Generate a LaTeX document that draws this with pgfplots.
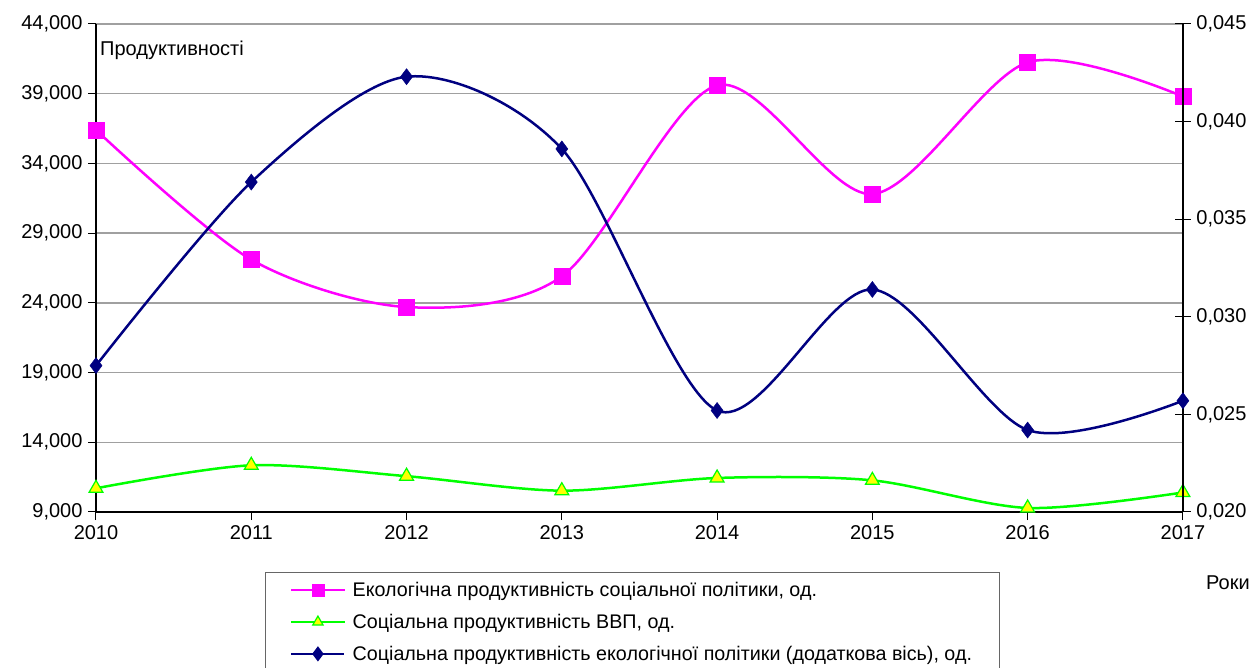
\documentclass[border=0pt]{standalone}
\usepackage{fontspec}
\setmainfont{Liberation Sans}
\usepackage{pgfplots}
\pgfplotsset{compat=1.18}
\definecolor{pinkc}{HTML}{FF00FF}
\definecolor{greenc}{HTML}{00FF00}
\definecolor{yellowc}{HTML}{FFFF00}
\definecolor{navyc}{HTML}{000080}
\definecolor{gridc}{HTML}{A0A0A0}
\begin{document}
\begin{tikzpicture}
\pgfplotsset{
  every axis/.append style={
    scale only axis, width=1087pt, height=488pt,
    xmin=2010, xmax=2017,
    scaled ticks=false,
    tick label style={font=\fontsize{20}{24}\selectfont},
    clip=false,
  },
}
\begin{axis}[
  ymin=9000, ymax=44000,
  ytick={9000,14000,19000,24000,29000,34000,39000,44000},
  yticklabels={{9,000},{14,000},{19,000},{24,000},{29,000},{34,000},{39,000},{44,000}},
  xtick={2010,2011,2012,2013,2014,2015,2016,2017},
  xticklabels={2010,2011,2012,2013,2014,2015,2016,2017},
  axis x line*=bottom, axis y line*=left,
  axis line style={-, black, line width=1.5pt},
  tick align=outside, major tick length=8pt,
  tick style={black, line width=1pt},
  ymajorgrids, major grid style={gridc, line width=1.3pt},
  xticklabel style={yshift=-2pt},
  yticklabel style={xshift=-2pt},
  legend style={at={(0.1555,-0.123)}, anchor=north west, draw=black!60, line width=0.8pt,
    font=\fontsize{19.7}{23}\selectfont, row sep=12pt, inner xsep=25pt, inner ysep=8pt},
  legend cell align=left,
  legend image code/.code={\draw[mark repeat=2,mark phase=2,#1,mark size=6pt,line width=2pt] plot coordinates {(0pt,0pt) (26.5pt,0pt) (53pt,0pt)}; \path (58pt,0pt);},
]
\addplot[pinkc, line width=2.5pt, smooth, mark=square*, mark size=8pt, mark options={fill=pinkc, draw=pinkc, line width=0.5pt}]
 coordinates {(2010,36400) (2011,27100) (2012,23700) (2013,25900) (2014,39600) (2015,31800) (2016,41250) (2017,38800)};
\addlegendentry{\makebox[619pt][l]{Екологічна продуктивність соціальної політики, од.}}
\addplot[greenc, line width=2.5pt, smooth, mark=triangle*, mark size=8pt, mark options={fill=yellowc, draw=greenc, line width=1.2pt}]
 coordinates {(2010,10700) (2011,12350) (2012,11570) (2013,10530) (2014,11440) (2015,11270) (2016,9290) (2017,10400)};
\addlegendentry{Соціальна продуктивність ВВП, од.}
\addlegendimage{navyc, line width=2pt, mark=diamond*, mark size=7pt, mark options={fill=navyc, draw=navyc}}
\addlegendentry{Соціальна продуктивність екологічної політики (додаткова вісь), од.}
\node[anchor=west, font=\fontsize{20}{24}\selectfont, inner sep=0pt] at ([xshift=4pt, yshift=-26pt]rel axis cs:0,1) {Продуктивності};
\node[anchor=center, font=\fontsize{20}{24}\selectfont, inner sep=0pt] at ([xshift=45pt, yshift=-71pt]rel axis cs:1,0) {Роки};
\end{axis}
\begin{axis}[
  ymin=0.020, ymax=0.045,
  ytick={0.020,0.025,0.030,0.035,0.040,0.045},
  yticklabels={{0,020},{0,025},{0,030},{0,035},{0,040},{0,045}},
  axis y line*=right, axis x line=none,
  axis line style={-, black, line width=1.5pt},
  tick align=center, major tick length=16pt,
  tick style={black, line width=1pt},
  yticklabel style={xshift=2pt},
]
\addplot[navyc, line width=2.5pt, smooth, mark=diamond*, mark size=8pt, mark options={fill=navyc, draw=navyc, line width=0.5pt}]
 coordinates {(2010,0.0275) (2011,0.0369) (2012,0.0423) (2013,0.0386) (2014,0.0252) (2015,0.0314) (2016,0.0242) (2017,0.0257)};
\end{axis}
\pgfresetboundingbox
\path (-96pt,-156pt) rectangle (1161pt,512pt);
\end{tikzpicture}
\end{document}
